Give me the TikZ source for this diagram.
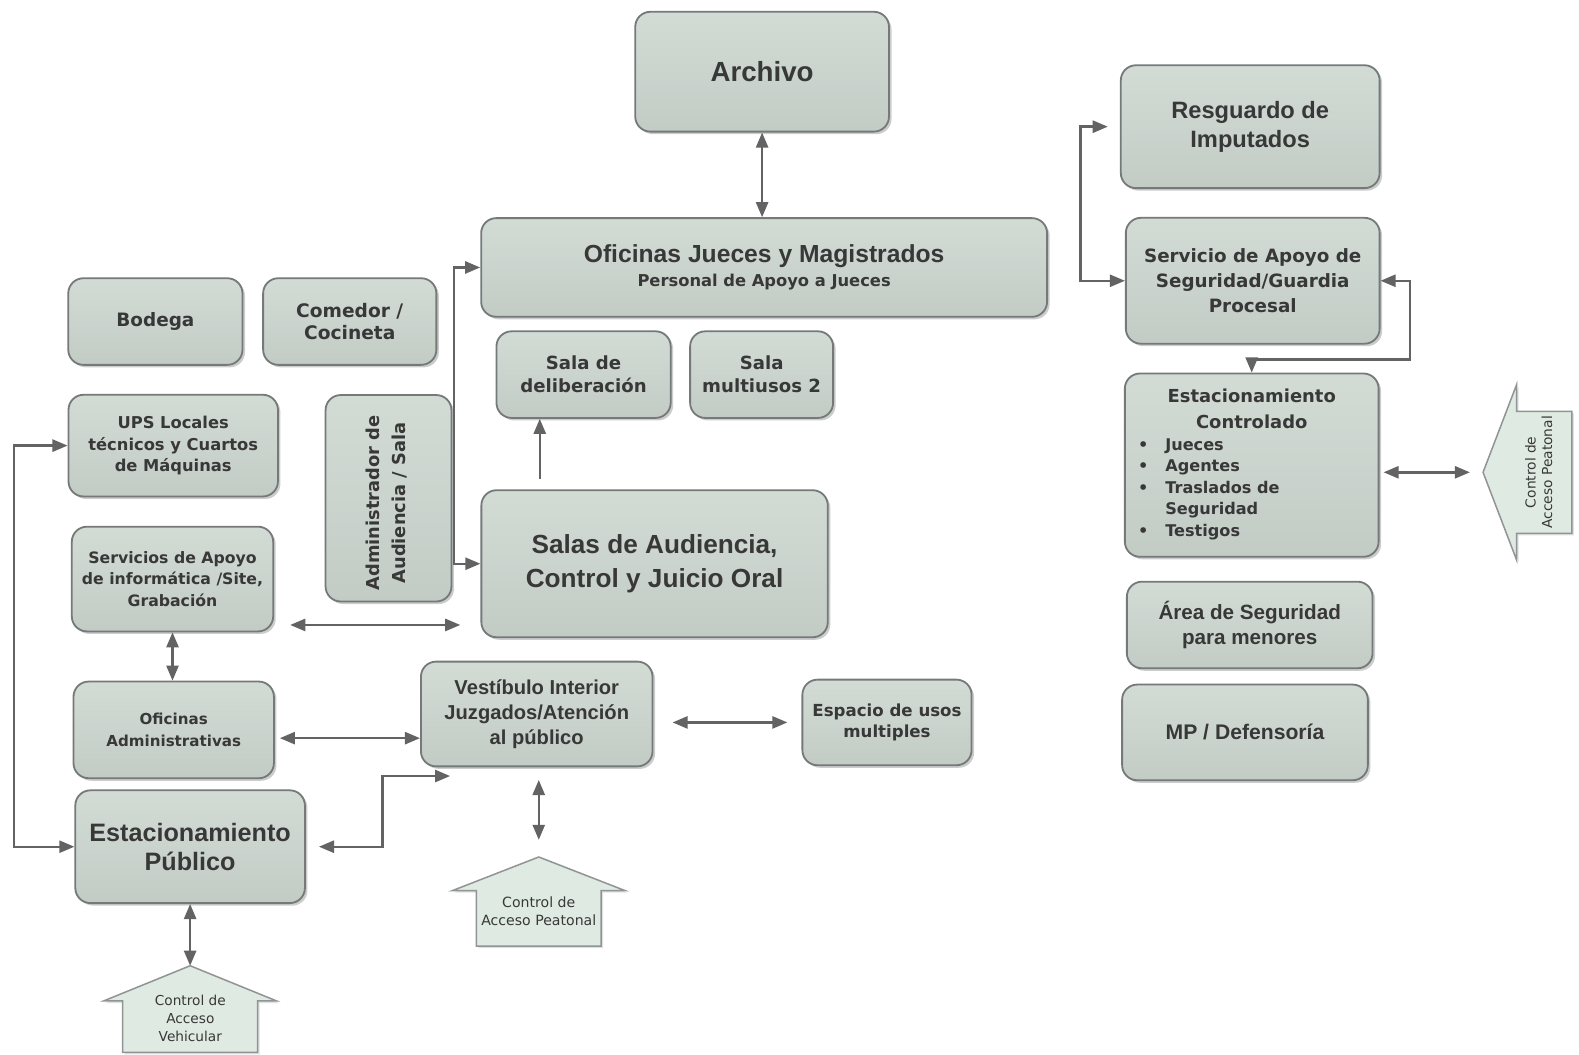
\documentclass[tikz,border=0pt]{standalone}
\usepackage{fontspec}
\setmainfont{Liberation Sans}
\newfontfamily\dv{DejaVu Sans}
\newfontfamily\lb{Liberation Sans}
\usetikzlibrary{arrows.meta,shadows,calc}
\definecolor{boxtop}{HTML}{D3DBD5}
\definecolor{boxbot}{HTML}{C2CCC5}
\definecolor{boxline}{HTML}{75797A}
\definecolor{txt}{HTML}{383838}
\definecolor{connc}{HTML}{636363}
\definecolor{arrfill}{HTML}{DFEAE2}
\newcommand{\LB}[2]{\lb\bfseries\fontsize{#1}{#2}\selectfont}
\newcommand{\DB}[2]{\dv\bfseries\fontsize{#1}{#2}\selectfont}
\newcommand{\DR}[2]{\dv\fontsize{#1}{#2}\selectfont}
\newcommand{\blt}{\makebox[27pt][l]{\textbullet}}
\begin{document}
\begin{tikzpicture}[x=1pt,y=-1pt,
  box/.style={draw=boxline, line width=1.8pt, rounded corners=15pt,
    top color=boxtop, bottom color=boxbot, text=txt, align=center, inner sep=0pt,
    drop shadow={shadow xshift=2.5pt, shadow yshift=-2.5pt, fill=black, opacity=0.2}},
  blockarr/.style={draw=boxline!80, line width=1.5pt, fill=arrfill, line join=miter,
    drop shadow={shadow xshift=2pt, shadow yshift=-2pt, fill=black, opacity=0.12}},
  lbl/.style={text=txt, align=center, inner sep=0pt},
  dconn/.style={draw=connc, line width=2.4pt,
    {Triangle[length=15pt,width=12pt]}-{Triangle[length=15pt,width=12pt]}},
  sconn/.style={draw=connc, line width=2.4pt, -{Triangle[length=15pt,width=12pt]}}]
\useasboundingbox (0,0) rectangle (1568,1047);

% boxes
\node[box, minimum width=252pt, minimum height=119pt, font=\LB{27.5}{33}] (archivo) at (756.8,71.2) {Archivo};
\node[box, minimum width=257pt, minimum height=122pt, font=\LB{23.5}{29}] (resg) at (1241.5,125.8) {Resguardo de\\Imputados};
\node[box, minimum width=252pt, minimum height=125pt, font=\DB{18.2}{25}] (serv) at (1244,278.8) {Servicio de Apoyo de\\Seguridad/Guardia\\Procesal};
\node[box, minimum width=562pt, minimum height=98pt, font=\LB{24.5}{24}] (ofj) at (758.8,265.6) {Oficinas Jueces y Magistrados\\{\DB{16.2}{24}Personal de Apoyo a Jueces}};
\node[box, minimum width=173pt, minimum height=86pt, font=\DB{18.3}{22}] (bodega) at (154.3,319.3) {Bodega};
\node[box, minimum width=172pt, minimum height=86pt, font=\DB{18.5}{21.5}] (comedor) at (347.3,319.3) {Comedor /\\Cocineta};
\node[box, minimum width=173pt, minimum height=86pt, font=\DB{18}{23}] (delib) at (579.5,372) {Sala de\\deliberación};
\node[box, minimum width=142pt, minimum height=86pt, font=\DB{18}{23}] (multi) at (756.3,372) {Sala\\multiusos 2};
\node[box, minimum width=252pt, minimum height=182pt] (estc) at (1243,461.9) {};
\node[box, minimum width=208pt, minimum height=101pt, font=\DB{16.2}{21}] (ups) at (172,442.5) {UPS Locales\\técnicos y Cuartos\\de Máquinas};
\node[box, minimum width=125pt, minimum height=205pt] (admin) at (385.8,494.8) {};
\node[box, minimum width=200pt, minimum height=104pt, font=\DB{15.6}{21}] (info) at (171.3,575) {Servicios de Apoyo\\de informática /Site,\\Grabación};
\node[box, minimum width=344pt, minimum height=146pt, font=\LB{26}{33}] (salas) at (650,559.8) {Salas de Audiencia,\\Control y Juicio Oral};
\node[box, minimum width=244pt, minimum height=86pt, font=\LB{20.5}{24}] (area) at (1241,620.6) {Área de Seguridad\\para menores};
\node[box, minimum width=199pt, minimum height=96pt, font=\DB{15}{22}] (ofadm) at (172.5,724.8) {Oficinas\\Administrativas};
\node[box, minimum width=230pt, minimum height=104pt, font=\LB{20}{24.7}] (vest) at (533,709) {Vestíbulo Interior\\Juzgados/Atención\\al público};
\node[box, minimum width=168pt, minimum height=85pt, font=\DB{16.5}{20.5}] (esp) at (880.8,717.4) {Espacio de usos\\multiples};
\node[box, minimum width=244pt, minimum height=95pt, font=\LB{21}{25}] (mp) at (1236.3,727.3) {MP / Defensoría};
\node[box, minimum width=228pt, minimum height=112pt, font=\LB{25}{28.5}] (estp) at (188.8,840.8) {Estacionamiento\\Público};

% texts inside boxes drawn separately
\node[lbl, font=\DB{17.8}{26}] (estct) at (1243,406) {Estacionamiento\\Controlado};
\node[lbl, font=\DB{16}{21.5}, align=left, anchor=north west] (estcl) at (1130,435) {\blt Jueces\\\blt Agentes\\\blt Traslados de\\\hspace*{27pt}Seguridad\\\blt Testigos};
\node[lbl, rotate=90, font=\DB{17.7}{26.5}] (admint) at (384,499.5) {Administrador de\\Audiencia / Sala};

% block arrows
\coordinate (ptip) at (535,851);
\coordinate (vtip) at (188.8,959);
\coordinate (rtip) at (1472.7,469);
\draw[blockarr] (ptip) -- ++(86,33.5) -- ++(-24,0) -- ++(0,55) -- ++(-124,0) -- ++(0,-55) -- ++(-24,0) -- cycle;
\draw[blockarr] (vtip) -- ++(86,35) -- ++(-19,0) -- ++(0,51) -- ++(-134,0) -- ++(0,-51) -- ++(-19,0) -- cycle;
\draw[blockarr] (rtip) -- ++(33.3,-87) -- ++(0,26.6) -- ++(54.8,0) -- ++(0,121) -- ++(-54.8,0) -- ++(0,26.4) -- cycle;
\node[lbl, font=\DR{14}{18}] (ptxt) at (535,905) {Control de\\Acceso Peatonal};
\node[lbl, font=\DR{13.6}{18}] (vtxt) at (189,1011) {Control de\\Acceso\\Vehicular};
\node[lbl, rotate=90, font=\DR{13.7}{16.5}] (rtxt) at (1528,469) {Control de\\Acceso Peatonal};

% connectors
\coordinate (rsA) at (1073,0);
\draw[dconn] ([xshift=-12pt]resg.west) -- (rsA |- resg.west) -- (rsA |- serv.west) -- (serv.west);
\coordinate (srA) at (1400,357);
\draw[dconn] (serv.east) -- (srA |- serv.east) -- (srA) -- (srA -| estc.north) -- (estc.north);
\draw[dconn] ([xshift=4pt]estc.east |- rtip) -- ([xshift=-13pt]rtip);
\draw[dconn] (archivo.south) -- (archivo.south |- ofj.north);
\coordinate (adA) at (451,0);
\draw[dconn] (ofj.west) -- (adA |- ofj.west) -- (adA |- salas.west) -- (salas.west);
\coordinate (dlX) at (536,0);
\draw[sconn] ([yshift=10pt]salas.north -| dlX) -- (delib.south -| dlX);
\coordinate (isY) at (0,620.6);
\draw[dconn] ([xshift=16pt]info.east |- isY) -- ([xshift=-20pt]salas.west |- isY);
\draw[dconn] (info.south) -- (info.south |- ofadm.north);
\coordinate (ovY) at (0,733);
\draw[dconn] ([xshift=5pt]ofadm.east |- ovY) -- (vest.west |- ovY);
\draw[dconn] ([xshift=19pt]vest.east |- esp.west) -- ([xshift=-14pt]esp.west);
\draw[dconn] ([yshift=-12.6pt]vest.south -| ptip) -- ([yshift=17pt]ptip);
\coordinate (evA) at (380,770.6);
\coordinate (evB) at (447,770.6);
\draw[dconn] ([xshift=13pt]estp.east) -- (evA |- estp.east) -- (evA) -- (evB);
\coordinate (lX) at (14,0);
\draw[dconn] (ups.west) -- (lX |- ups.west) -- (lX |- estp.west) -- (estp.west);
\draw[dconn] (estp.south) -- (vtip);
\end{tikzpicture}
\end{document}
